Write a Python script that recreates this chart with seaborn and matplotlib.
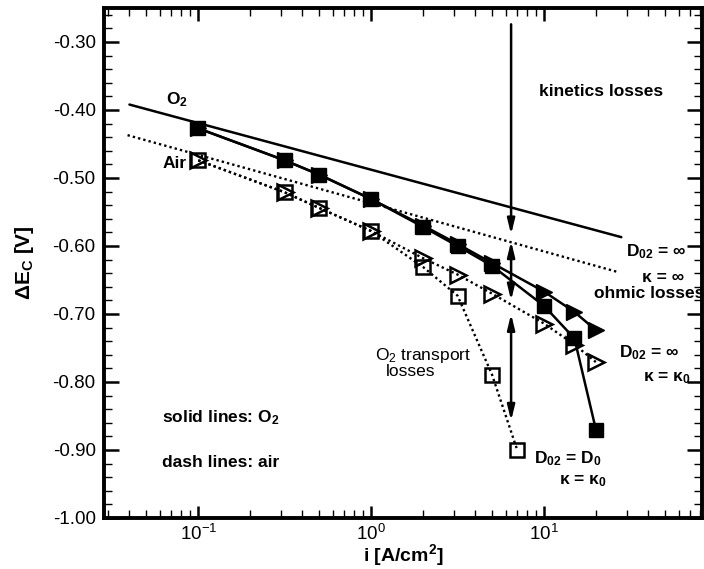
import numpy as np
import pandas as pd
import matplotlib
matplotlib.use("Agg")
import matplotlib.pyplot as plt
import seaborn as sns
from matplotlib.ticker import MultipleLocator, LogLocator, FormatStrFormatter, NullFormatter

# ---------------- data ----------------
i_vals = [0.1, 0.316, 0.5, 1.0, 2.0, 3.16, 5.0, 10.0, 15.0, 20.0]
o2_inf_k0 = [-0.427, -0.474, -0.495, -0.531, -0.570, -0.597, -0.625, -0.667, -0.697, -0.724]
o2_d0_k0 = [-0.427, -0.474, -0.495, -0.531, -0.572, -0.600, -0.629, -0.688, -0.736, -0.871]
air_inf_k0 = [-0.474, -0.521, -0.544, -0.578, -0.618, -0.642, -0.670, -0.714, -0.745, -0.771]
i_air_d0 = [0.1, 0.316, 0.5, 1.0, 2.0, 3.16, 5.0, 7.0]
air_d0_k0 = [-0.474, -0.521, -0.544, -0.578, -0.631, -0.673, -0.789, -0.900]
i_ideal_o2 = [0.04, 28.0]
o2_ideal = [-0.392, -0.587]
i_ideal_air = [0.039, 26.5]
air_ideal = [-0.437, -0.638]

arrow_i = 6.45
kin_arrow = [-0.274, -0.583]
ohm_arrow = [-0.593, -0.680]
trans_arrow = [-0.700, -0.857]

yticks = [-1.0, -0.9, -0.8, -0.7, -0.6, -0.5, -0.4, -0.3]

# ---------------- style ----------------
sns.set_style("ticks")
plt.rcParams['font.family'] = ['Liberation Sans', 'DejaVu Sans']
plt.rcParams['mathtext.fontset'] = 'custom'
plt.rcParams['mathtext.rm'] = 'Liberation Sans'
plt.rcParams['mathtext.it'] = 'Liberation Sans:italic'
plt.rcParams['mathtext.bf'] = 'Liberation Sans:bold'
plt.rcParams['axes.unicode_minus'] = False
for key in ['text.color', 'axes.labelcolor', 'xtick.color', 'ytick.color', 'axes.edgecolor']:
    plt.rcParams[key] = 'black'

fig = plt.figure(figsize=(7.04, 5.69), dpi=100)
ax = fig.add_axes([104/704, 1-518/569, (702-104)/704, (518-8)/569])

dotted = (0, (1.0, 1.3))

# ideal lines
sns.lineplot(x=i_ideal_o2, y=o2_ideal, ax=ax, color='black', lw=1.8, estimator=None, sort=False)
sns.lineplot(x=i_ideal_air, y=air_ideal, ax=ax, color='black', lw=1.7, linestyle=dotted,
             estimator=None, sort=False)

# air series (open markers, dotted lines)
sns.lineplot(x=i_vals, y=air_inf_k0, ax=ax, color='black', lw=1.7, linestyle=dotted,
             marker='>', markersize=11, markerfacecolor='none', markeredgecolor='black',
             markeredgewidth=1.8, estimator=None, sort=False)
sns.lineplot(x=i_air_d0, y=air_d0_k0, ax=ax, color='black', lw=1.7, linestyle=dotted,
             marker='s', markersize=10, markerfacecolor='none', markeredgecolor='black',
             markeredgewidth=1.8, estimator=None, sort=False)

# O2 series (filled markers, solid lines)
sns.lineplot(x=i_vals, y=o2_inf_k0, ax=ax, color='black', lw=1.8,
             marker='>', markersize=11, markerfacecolor='black', markeredgecolor='black',
             markeredgewidth=1.0, estimator=None, sort=False)
sns.lineplot(x=i_vals, y=o2_d0_k0, ax=ax, color='black', lw=1.8,
             marker='s', markersize=10, markerfacecolor='black', markeredgecolor='black',
             markeredgewidth=1.0, estimator=None, sort=False)

# arrows
aprops1 = dict(arrowstyle='-|>,head_length=0.9,head_width=0.22', color='black', lw=1.8,
               shrinkA=0, shrinkB=0)
aprops2 = dict(arrowstyle='<|-|>,head_length=0.9,head_width=0.22', color='black', lw=1.8,
               shrinkA=0, shrinkB=0)
ax.annotate('', xy=(arrow_i, kin_arrow[1]), xytext=(arrow_i, kin_arrow[0]), arrowprops=aprops1)
ax.annotate('', xy=(arrow_i, ohm_arrow[1]), xytext=(arrow_i, ohm_arrow[0]), arrowprops=aprops2)
ax.annotate('', xy=(arrow_i, trans_arrow[1]), xytext=(arrow_i, trans_arrow[0]), arrowprops=aprops2)

# axes
ax.set_xscale('log')
ax.set_xlim(0.0285, 82)
ax.set_ylim(-1.0, -0.25)
ax.set_yticks(yticks)
ax.yaxis.set_major_formatter(FormatStrFormatter('%.2f'))
ax.yaxis.set_minor_locator(MultipleLocator(0.02))
ax.xaxis.set_major_locator(LogLocator(base=10, numticks=10))
ax.xaxis.set_minor_locator(LogLocator(base=10, subs=np.arange(2, 10), numticks=20))
ax.xaxis.set_minor_formatter(NullFormatter())

ax.tick_params(which='major', direction='in', top=True, right=True, length=11, width=1.8,
               labelsize=13.5, pad=6, color='black', labelcolor='black')
ax.tick_params(which='minor', direction='in', top=True, right=True, length=6, width=1.0,
               color='black')
ax.tick_params(axis='x', which='major', length=9, pad=4)
for s in ax.spines.values():
    s.set_linewidth(2.8)
    s.set_color('black')

ax.set_ylabel(r'ΔE$_{\mathbf{C}}$ [V]', fontsize=15, fontweight='bold', labelpad=12)
ax.set_xlabel(r'i [A/cm$^{\mathbf{2}}$]', fontsize=14, fontweight='bold', labelpad=-1)

# annotations
tb = dict(fontsize=12.5, fontweight='bold', color='black')
ax.text(21.4, -0.373, 'kinetics losses', ha='center', va='center', **tb)
ax.text(0.0757, -0.385, r'O$_{\mathbf{2}}$', ha='center', va='center', **tb)
ax.text(0.0853, -0.478, 'Air', ha='right', va='center', **tb)
ax.text(29.8, -0.609, r'$\mathbf{D_{02}}$ = ∞', ha='left', va='center', **tb)
ax.text(64.4, -0.647, 'κ = ∞', ha='right', va='center', **tb)
ax.text(19.5, -0.670, 'ohmic losses', ha='left', va='center', clip_on=False, **tb)
ax.text(27.1, -0.757, r'$\mathbf{D_{02}}$ = ∞', ha='left', va='center', **tb)
ax.text(70.7, -0.795, r'κ = $\mathbf{κ_0}$', ha='right', va='center', **tb)
ax.text(8.75, -0.912, r'$\mathbf{D_{02}}$ = $\mathbf{D_0}$', ha='left', va='center', **tb)
ax.text(23.1, -0.946, r'κ = $\mathbf{κ_0}$', ha='right', va='center', **tb)
ax.text(1.05, -0.761, r'O$_2$ transport', ha='left', va='center', fontsize=12.5, color='black')
ax.text(1.21, -0.785, 'losses', ha='left', va='center', fontsize=12.5, color='black')
ax.text(0.0619, -0.853, r'solid lines: O$_{\mathbf{2}}$', ha='left', va='center', **tb)
ax.text(0.0619, -0.919, 'dash lines: air', ha='left', va='center', **tb)

fig.savefig('out.png', dpi=100)
